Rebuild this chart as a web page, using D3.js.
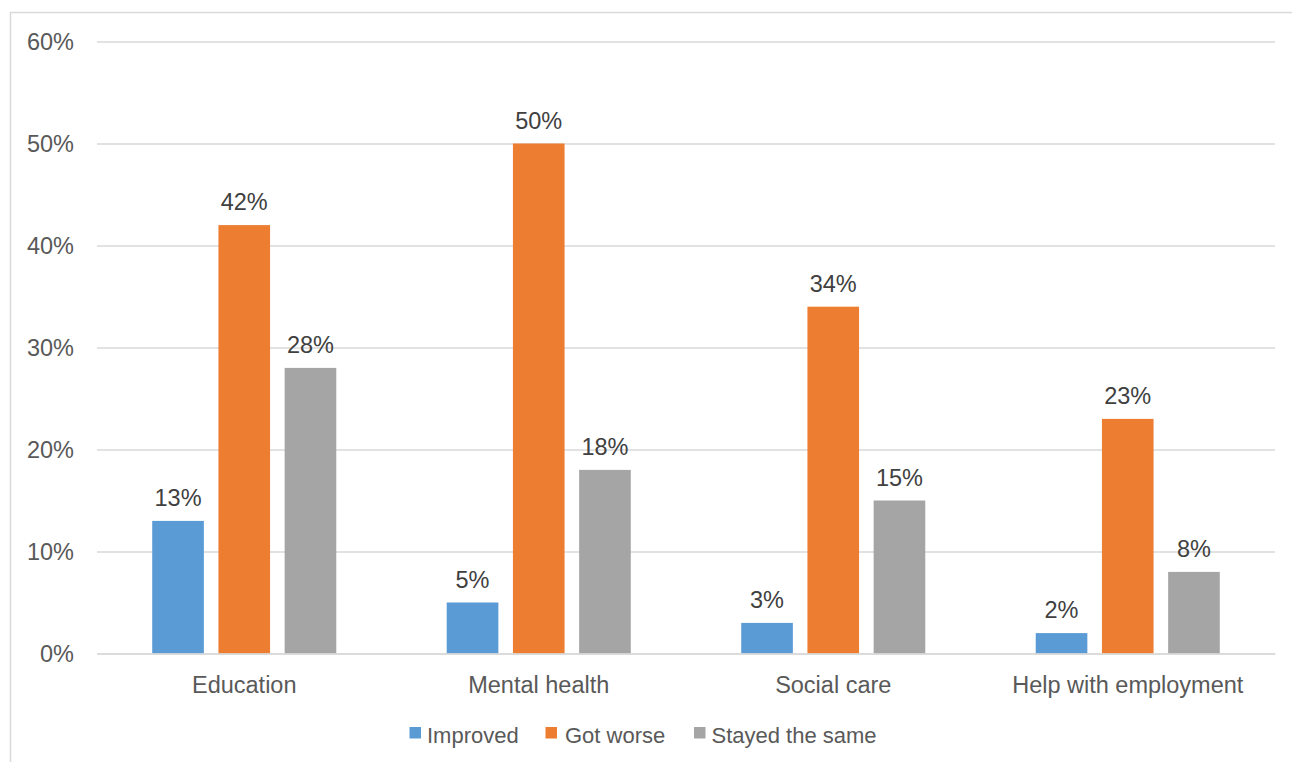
<!DOCTYPE html>
<html>
<head>
<meta charset="utf-8">
<script src="https://cdn.jsdelivr.net/npm/d3@7"></script>
<style>
  html, body { margin: 0; padding: 0; background: #fff; }
  svg { display: block; }
  text { font-family: "Liberation Sans", Arial, sans-serif; }
</style>
</head>
<body>
<svg id="chart" width="1292" height="762"></svg>
<script>
// Survey responses: how each service changed
const categories = ["Education", "Mental health", "Social care", "Help with employment"];
const seriesNames = ["Improved", "Got worse", "Stayed the same"];
const improved = [13, 5, 3, 2];
const gotWorse = [42, 50, 34, 23];
const stayedSame = [28, 18, 15, 8];
const yTicks = [0, 10, 20, 30, 40, 50, 60];
const colors = ["#5b9bd5", "#ed7d31", "#a5a5a5"];

const seriesValues = [improved, gotWorse, stayedSame];
const rows = categories.map((c, i) => ({
  category: c,
  values: seriesNames.map((s, k) => ({ series: s, value: seriesValues[k][i] }))
}));

const svg = d3.select("#chart");
const plot = { left: 97, right: 1275, top: 41.5, bottom: 653.5 };
const labelSize = 23.5;

// Outer chart frame
svg.append("rect")
  .attr("x", 10.5).attr("y", 12.5)
  .attr("width", 1400).attr("height", 900)
  .attr("fill", "none").attr("stroke", "#d9d9d9").attr("stroke-width", 1.5);

const y = d3.scaleLinear().domain([0, 60]).range([plot.bottom, plot.top]);
const x0 = d3.scaleBand().domain(categories).range([plot.left, plot.right]).padding(0);
const x1 = d3.scaleBand().domain(seriesNames).range([0, x0.bandwidth()])
  .paddingInner(0.22).paddingOuter(0.834);
const color = d3.scaleOrdinal().domain(seriesNames).range(colors);

// Gridlines and y-axis labels
const yAxis = d3.axisLeft(y).tickValues(yTicks)
  .tickSize(-(plot.right - plot.left)).tickPadding(23)
  .tickFormat(d => d + "%");
const gy = svg.append("g").attr("transform", `translate(${plot.left},0)`).call(yAxis);
gy.select(".domain").remove();
gy.selectAll(".tick line").attr("stroke", "#d9d9d9").attr("stroke-width", 1.5);
gy.selectAll(".tick text")
  .attr("fill", "#595959").attr("font-size", labelSize)
  .attr("font-family", "'Liberation Sans', Arial, sans-serif");

// Bars
const groups = svg.append("g").selectAll("g").data(rows).join("g")
  .attr("transform", d => `translate(${x0(d.category)},0)`);

groups.selectAll("rect").data(d => d.values).join("rect")
  .attr("x", d => x1(d.series))
  .attr("y", d => y(d.value))
  .attr("width", x1.bandwidth())
  .attr("height", d => y(0) - y(d.value))
  .attr("fill", d => color(d.series));

// Value labels
groups.selectAll("text.val").data(d => d.values).join("text")
  .attr("class", "val")
  .attr("x", d => x1(d.series) + x1.bandwidth() / 2)
  .attr("y", d => y(d.value) - 15)
  .attr("text-anchor", "middle")
  .attr("fill", "#404040").attr("font-size", labelSize)
  .text(d => d.value + "%");

// Category axis
const xAxis = d3.axisBottom(x0).tickSize(0).tickPadding(0);
const gx = svg.append("g").attr("transform", `translate(0,${plot.bottom})`).call(xAxis);
gx.select(".domain").attr("stroke", "#d9d9d9").attr("stroke-width", 1.5);
gx.selectAll(".tick text")
  .attr("fill", "#595959").attr("font-size", labelSize)
  .attr("font-family", "'Liberation Sans', Arial, sans-serif")
  .attr("dy", null).attr("y", 39.5);

// Legend
const legendItems = [
  { name: seriesNames[0], sx: 409.5, tx: 427 },
  { name: seriesNames[1], sx: 545.5, tx: 565 },
  { name: seriesNames[2], sx: 694, tx: 711.5 }
];
const legend = svg.append("g");
legend.selectAll("rect").data(legendItems).join("rect")
  .attr("x", d => d.sx).attr("y", 727)
  .attr("width", 11.5).attr("height", 11.5)
  .attr("fill", d => color(d.name));
legend.selectAll("text").data(legendItems).join("text")
  .attr("x", d => d.tx).attr("y", 742.5)
  .attr("fill", "#595959").attr("font-size", 22)
  .text(d => d.name);
</script>
</body>
</html>
